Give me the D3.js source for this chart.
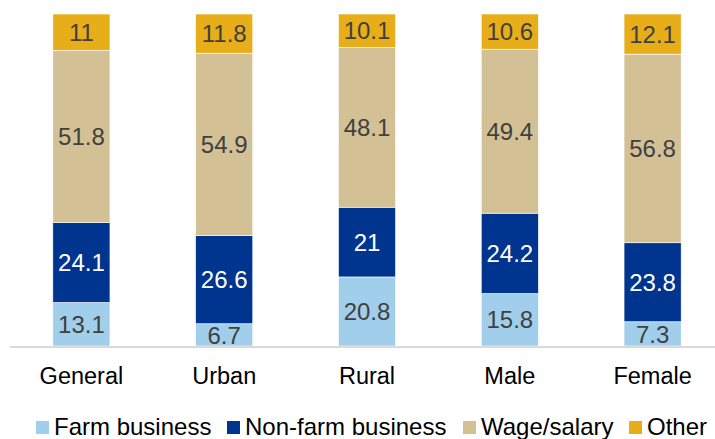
<!DOCTYPE html>
<html>
<head>
<meta charset="utf-8">
<script src="https://cdn.jsdelivr.net/npm/d3@7"></script>
<style>
html,body{margin:0;padding:0;background:#fff;}
svg{display:block;font-family:"Liberation Sans",Arial,sans-serif;}
</style>
</head>
<body>
<svg id="chart" width="715" height="439"></svg>
<script>
const categories = ["General", "Urban", "Rural", "Male", "Female"];
const seriesNames = ["Farm business", "Non-farm business", "Wage/salary", "Other"];
const farm = [13.1, 6.7, 20.8, 15.8, 7.3];
const nonFarm = [24.1, 26.6, 21, 24.2, 23.8];
const wage = [51.8, 54.9, 48.1, 49.4, 56.8];
const other = [11, 11.8, 10.1, 10.6, 12.1];
const colors = ["#A1CFEB", "#00358F", "#D3C095", "#E8AE1A"];
const labelColors = ["#404040", "#ffffff", "#404040", "#404040"];

const keys = ["farm", "nonFarm", "wage", "other"];
const table = categories.map((c, i) => ({cat: c, farm: farm[i], nonFarm: nonFarm[i], wage: wage[i], other: other[i]}));

const svg = d3.select("#chart");
const x = d3.scaleBand().domain(categories).range([10, 724]).paddingInner(0.6).paddingOuter(0.3);
const y = d3.scaleLinear().domain([0, 100]).range([346, 14]);

const stack = d3.stack().keys(keys)(table);

const g = svg.append("g");
stack.forEach((layer, li) => {
  const lg = g.append("g").attr("fill", colors[li]);
  lg.selectAll("rect").data(layer).join("rect")
    .attr("x", d => x(d.data.cat))
    .attr("width", x.bandwidth())
    .attr("y", d => y(d[1]))
    .attr("height", d => y(d[0]) - y(d[1]))
    .attr("stroke", "#ffffff").attr("stroke-width", 0.6);
});
stack.forEach((layer, li) => {
  g.append("g").selectAll("text").data(layer).join("text")
    .attr("x", d => x(d.data.cat) + x.bandwidth() / 2)
    .attr("y", d => (y(d[0]) + y(d[1])) / 2)
    .attr("dy", "0.36em")
    .attr("text-anchor", "middle")
    .attr("font-size", 24)
    .attr("fill", labelColors[li])
    .text(d => d.data[keys[li]]);
});

// axis
const axis = svg.append("g").attr("transform", "translate(0,347)")
  .call(d3.axisBottom(x).tickSize(0).tickPadding(20));
axis.select(".domain").attr("d", "M10,0H715").attr("stroke", "#D9D9D9").attr("stroke-width", 2);
axis.selectAll("text").attr("font-size", 23.5).attr("fill", "#000").attr("font-family", "\"Liberation Sans\",Arial,sans-serif").attr("dy", "0.71em");

// legend
const legendX = [36, 227, 463, 629];
const lg = svg.append("g");
seriesNames.forEach((s, i) => {
  lg.append("rect").attr("x", legendX[i]).attr("y", 421).attr("width", 13).attr("height", 13).attr("fill", colors[i]);
  lg.append("text").attr("x", legendX[i] + 18).attr("y", 435).attr("font-size", 24).attr("fill", "#000").text(s);
});
</script>
</body>
</html>
